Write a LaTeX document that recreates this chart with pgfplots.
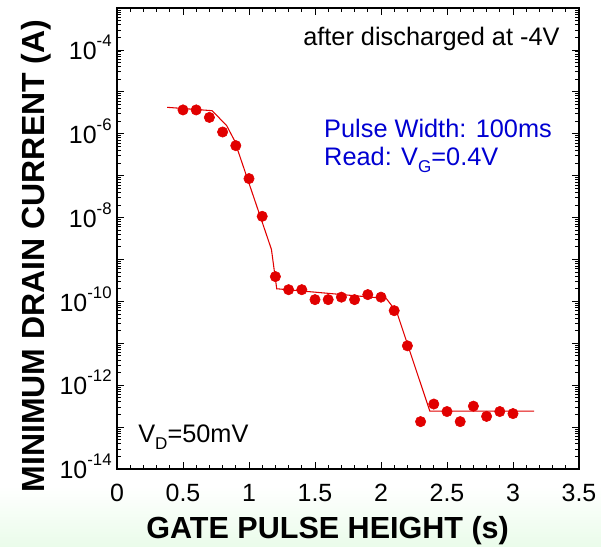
\documentclass[border=0pt]{standalone}
\usepackage{fontspec}
\setmainfont{Liberation Sans}
\usepackage{pgfplots}
\pgfplotsset{compat=1.18}
\definecolor{dotred}{RGB}{225,0,0}
\definecolor{noteblue}{RGB}{0,0,210}
\definecolor{mint}{RGB}{234,252,234}
\newcommand{\tl}{\fontsize{18.7}{22}\selectfont}
\newcommand{\sups}[1]{\raisebox{9.75pt}{\fontsize{12.6}{14}\selectfont #1}}
\newcommand{\subs}[1]{\raisebox{-5.25pt}{\fontsize{12.8}{14}\selectfont #1}}

\begin{document}
\begin{tikzpicture}
% page background with the pale green band at the bottom
\fill[white] (-87.75pt,-58.5pt) rectangle (363pt,351.75pt);
\shade[top color=white, bottom color=mint] (-87.75pt,-58.5pt) rectangle (363pt,-13pt);
\begin{axis}[
    scale only axis,
    width=346.5pt, height=345.75pt,
    ymode=log,
    xmin=0, xmax=3.5, ymin=1e-14, ymax=1e-3,
    xtick={0,0.5,...,3.5},
    xticklabels={0,0.5,1,1.5,2,2.5,3,3.5},
    minor x tick num=4,
    ytick={1e-14,1e-13,1e-12,1e-11,1e-10,1e-9,1e-8,1e-7,1e-6,1e-5,1e-4,1e-3},
    yticklabels={{10\sups{-14}},{},{10\sups{-12}},{},{10\sups{-10}},{},{10\sups{-8}},{},{10\sups{-6}},{},{10\sups{-4}},{}},
    tick align=inside,
    major tick length=5.25pt, minor tick length=3pt,
    tick style={black, line width=0.6pt},
    axis line style={line width=1pt},
    tick label style={font=\tl},
    xticklabel style={yshift=-8pt},
    yticklabel style={xshift=-0.5pt, yshift=1.9pt},
    xlabel={GATE PULSE HEIGHT (s)},
    ylabel={MINIMUM DRAIN CURRENT (A)},
    xlabel style={font=\bfseries\fontsize{22.9}{26}\selectfont, at={(axis description cs:0.456,-0.1518)}, anchor=base},
    ylabel style={font=\bfseries\fontsize{24}{27}\selectfont, at={(axis description cs:-0.1753,0.462)}, anchor=center},
    clip=false,
]
% fitted curve
\addplot[dotred, line width=0.8pt] coordinates {
    (0.38,4.27e-6) (0.72,3.55e-6) (0.83,1.58e-6) (0.89,6.9e-7)
    (1.17,1.74e-9) (1.21,2.0e-10) (2.04,1.17e-10) (2.12,5.5e-11)
    (2.37,2.4e-13) (3.16,2.4e-13)
};
% measured points
\addplot[only marks, mark=*, mark size=3.9pt, dotred, mark options={draw=dotred, fill=dotred}] coordinates {
    (0.5,3.7e-6) (0.6,3.7e-6) (0.7,2.45e-6) (0.8,1.1e-6) (0.9,5.2e-7)
    (1.0,8.5e-8) (1.1,1.07e-8) (1.2,3.9e-10) (1.3,1.9e-10) (1.4,1.9e-10)
    (1.5,1.1e-10) (1.6,1.1e-10) (1.7,1.26e-10) (1.8,1.1e-10) (1.9,1.45e-10)
    (2.0,1.26e-10) (2.1,6.0e-11) (2.2,8.7e-12) (2.3,1.35e-13) (2.4,3.55e-13)
    (2.5,2.35e-13) (2.6,1.35e-13) (2.7,3.16e-13) (2.8,1.8e-13) (2.9,2.35e-13)
    (3.0,2.1e-13)
};
\node[anchor=base west, font=\fontsize{19}{22}\selectfont, inner sep=0pt] at (rel axis cs:0.4026,0.9197) {after discharged at -4V};
\node[anchor=base west, font=\fontsize{19}{22}\selectfont, text=noteblue, inner sep=0pt] at (rel axis cs:0.448,0.720) {Pulse Width: 100ms};
\node[anchor=base west, font=\fontsize{19}{22}\selectfont, text=noteblue, inner sep=0pt] at (rel axis cs:0.448,0.659) {Read: V\subs{G}=0.4V};
\node[anchor=base west, font=\fontsize{19}{22}\selectfont, inner sep=0pt] at (rel axis cs:0.0455,0.0585) {V\subs{D}=50mV};
\end{axis}
\pgfresetboundingbox
\path[use as bounding box] (-87.75pt,-58.5pt) rectangle (363pt,351.75pt);
\end{tikzpicture}
\end{document}
